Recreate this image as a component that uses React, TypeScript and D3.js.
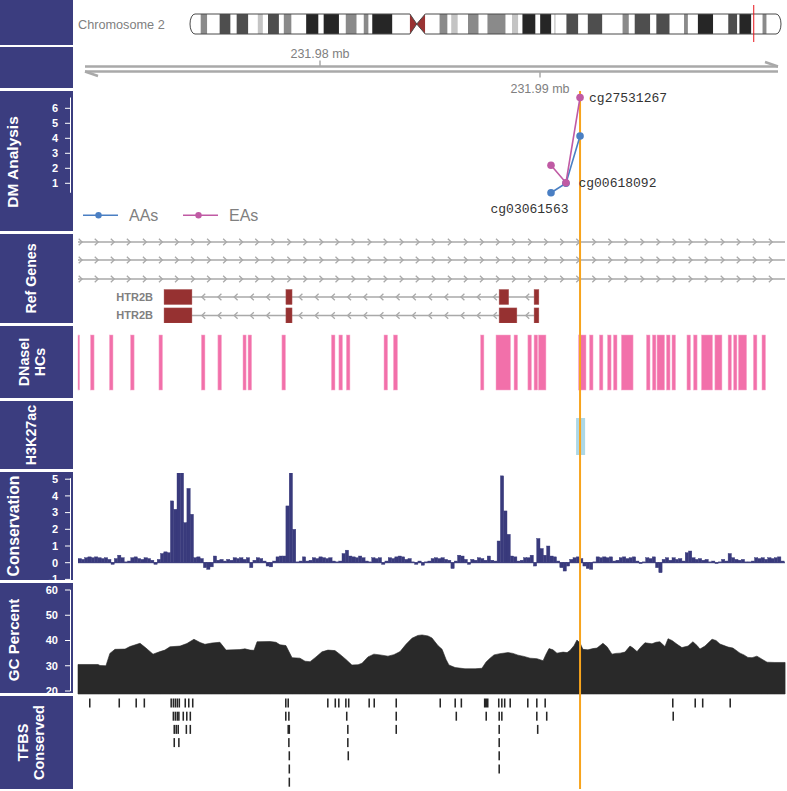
import React from 'react';
import * as d3 from 'd3';

// ---------------- data ----------------
const START_KB = 231969.0;
const END_KB = 232001.136;
const axisTickMb = [231.98, 231.99];

const chrName = 'Chromosome 2';
const chrLengthMb = 243.2;
const bandEndMb = [4.4, 7.1, 12.2, 16.7, 19.2, 24.0, 27.9, 30.0, 32.1, 36.6, 38.6, 41.8, 47.8, 52.9, 55.0, 61.3, 64.1, 68.6, 71.5, 73.5, 75.0, 83.3, 90.5, 93.3, 96.8, 102.7, 106.0, 107.5, 110.2, 114.4, 118.8, 122.4, 129.9, 132.5, 135.1, 136.8, 142.2, 144.1, 148.7, 149.9, 150.5, 154.9, 159.8, 163.7, 169.7, 178.0, 180.6, 183.0, 189.4, 191.9, 197.4, 203.3, 204.9, 209.0, 215.3, 221.5, 225.2, 226.1, 231.0, 235.6, 237.3, 243.2];
const bandStain = ['gneg', 'gpos50', 'gneg', 'gpos75', 'gneg', 'gpos75', 'gneg', 'gpos25', 'gneg', 'gpos75', 'gneg', 'gpos50', 'gneg', 'gpos100', 'gneg', 'gpos100', 'gneg', 'gpos50', 'gneg', 'gpos50', 'gneg', 'gpos100', 'gneg', 'acen', 'acen', 'gneg', 'gpos50', 'gneg', 'gpos25', 'gneg', 'gpos50', 'gneg', 'gpos50', 'gneg', 'gpos25', 'gneg', 'gpos100', 'gneg', 'gpos100', 'gneg', 'gpos25', 'gneg', 'gpos75', 'gneg', 'gpos75', 'gneg', 'gpos50', 'gneg', 'gpos75', 'gneg', 'gpos75', 'gneg', 'gpos50', 'gneg', 'gpos100', 'gneg', 'gpos75', 'gneg', 'gpos100', 'gneg', 'gpos50', 'gneg'];
const regionMarkMb = 231.985;

const probeIds = ['cg03061563', 'cg00618092', 'cg27531267'];
const probeKb = [21.5, 22.18, 22.82];
const aaScore = [0.37, 1.0, 4.15];
const eaScore = [2.2, 1.04, 6.72];
const dmTicks = [1, 2, 3, 4, 5, 6];
const groupNames = ['AAs', 'EAs'];

const geneLabels = ['', '', '', 'HTR2B', 'HTR2B'];
const geneStrands = ['+', '+', '+', '-', '-'];
const geneStartKb = [-2, -2, -2, 3.91, 3.91];
const geneEndKb = [34, 34, 34, 20.95, 20.95];
const geneExonsKb = [
  [], [], [],
  [[3.91, 5.18], [9.45, 9.73], [19.14, 19.58], [20.73, 20.95]],
  [[3.91, 5.18], [9.45, 9.73], [19.14, 19.95], [20.73, 20.95]],
];

const dnaseStartKb = [0, 0.57, 1.43, 2.39, 3.68, 5.61, 6.36, 7.5, 7.73, 9.27, 11.52, 11.86, 12.2, 13.91, 14.34, 18.3, 19.0, 19.82, 20.45, 20.73, 20.93, 22.75, 23.25, 23.7, 24.07, 24.34, 24.7, 25.84, 26.11, 26.32, 26.75, 27.0, 27.68, 27.98, 28.34, 28.95, 29.55, 29.8, 30.02, 30.7, 31.09];
const dnaseEndKb = [0.07, 0.73, 1.59, 2.55, 3.84, 5.77, 6.52, 7.64, 7.89, 9.43, 11.68, 12.02, 12.36, 14.07, 14.52, 18.45, 19.66, 19.98, 20.61, 20.89, 21.27, 23.09, 23.41, 23.86, 24.23, 24.5, 25.23, 26.0, 26.27, 26.66, 26.91, 27.16, 27.84, 28.14, 28.84, 29.27, 29.7, 29.95, 30.39, 30.86, 31.25];

const h3k27acStartKb = [22.64];
const h3k27acEndKb = [23.05];

const consBinKb = 0.15;
const consScore = [
  0.25, 0.2, 0.3, 0.35, 0.3, 0.35, 0.3, 0.25, 0.3, 0.2,
  -0.1, 0.25, 0.45, 0.3, 0.05, 0.1, 0.3, 0.35, 0.25, 0.2,
  0.3, 0.25, 0.15, -0.1, 0.2, 0.55, 0.65, 0.6, 3.7, 3.2,
  5.4, 5.4, 2.4, 4.45, 2.9, 0.3, 0.35, 0.25, -0.3, -0.4,
  -0.25, 0.4, 0.15, 0.2, 0.1, 0.2, 0.15, 0.3, 0.25, 0.3,
  0.2, 0.3, -0.3, 0.15, 0.3, 0.25, 0.1, -0.2, -0.25, 0.1,
  0.35, 0.4, 0.4, 3.4, 5.4, 2.0, 0.05, 0.1, 0.35, 0.1,
  0.15, 0.3, 0.25, 0.35, 0.3, 0.25, 0.3, 0.1, 0.05, 0.1,
  0.55, 0.75, 0.4, 0.35, 0.3, 0.4, 0.3, 0.1, 0.05, 0.3,
  0.25, 0.3, -0.1, 0.1, 0.3, 0.25, 0.35, 0.4, 0.35, 0.2,
  0.25, 0.05, -0.1, 0.1, -0.15, 0.05, 0.1, 0.25, 0.3, 0.25,
  0.3, 0.2, 0.15, -0.35, 0.1, 0.45, 0.4, 0.2, -0.1, 0.2,
  0.15, 0.3, 0.25, 0.15, 0.4, 0.15, 0.1, 1.3, 5.2, 3.1,
  1.7, 0.4, 0.35, 0.1, 0.15, 0.3, 0.3, 0.45, -0.2, 1.45,
  0.85, 0.45, 1.0, 0.4, 0.35, 0.1, -0.3, -0.5, -0.2, 0.2,
  0.3, 0.35, 0.25, -0.2, -0.35, -0.4, 0.05, 0.35, 0.3, 0.35,
  0.3, 0.35, 0.1, 0.15, 0.3, 0.35, 0.25, 0.3, 0.35, 0.1,
  -0.05, 0.05, 0.3, 0.25, 0.35, -0.3, -0.6, 0.2, 0.3, 0.15,
  0.3, 0.2, 0.25, 0.1, 0.6, 0.7, 0.3, 0.2, 0.25, 0.15,
  0.2, 0.05, 0.1, -0.05, 0.05, 0.2, 0.1, 0.55, 0.3, 0.2,
  0.15, 0.2, 0.05, 0.05, 0.1, 0.3, 0.25, 0.3, 0.2, 0.3,
  0.25, 0.3, 0.35, 0.1,
];
const consTicks = [-1, 0, 1, 2, 3, 4, 5];

const gcKb = [0, 0.91, 1.0, 1.27, 1.45, 1.68, 2.14, 2.36, 2.82, 3.09, 3.41, 3.73, 3.95, 4.18, 4.64, 4.95, 5.27, 5.55, 5.77, 6.09, 6.45, 6.73, 7.36, 7.59, 7.82, 8.0, 8.14, 8.73, 9.0, 9.18, 9.45, 9.73, 10.09, 10.32, 10.55, 10.82, 11.09, 11.36, 11.68, 11.91, 12.18, 12.45, 12.73, 12.91, 13.18, 13.45, 13.73, 14.09, 14.36, 14.64, 14.91, 15.18, 15.45, 15.64, 15.91, 16.09, 16.36, 16.55, 16.73, 16.86, 17.14, 17.59, 18.05, 18.36, 18.55, 18.73, 18.91, 19.18, 19.55, 19.77, 20.0, 20.27, 20.55, 20.86, 21.14, 21.27, 21.41, 21.59, 21.77, 22.05, 22.23, 22.36, 22.55, 22.68, 22.82, 22.95, 23.18, 23.41, 23.59, 23.86, 24.05, 24.27, 24.45, 24.64, 24.86, 25.09, 25.23, 25.41, 25.59, 25.77, 26.09, 26.27, 26.45, 26.68, 26.82, 27.0, 27.23, 27.45, 27.73, 27.95, 28.14, 28.27, 28.5, 28.82, 29.0, 29.18, 29.55, 29.77, 30.09, 30.27, 30.45, 30.64, 30.86, 31.09, 31.32, 31.68, 32.14];
const gcPct = [30.5, 30.5, 30.1, 30.0, 34.9, 36.5, 36.6, 37.6, 38.9, 37.0, 34.6, 35.6, 36.2, 37.5, 37.8, 38.8, 40.5, 39.2, 38.5, 39.0, 39.3, 36.2, 36.4, 36.7, 36.2, 36.1, 39.5, 39.6, 39.3, 38.3, 38.0, 33.2, 33.0, 31.8, 31.6, 33.5, 35.5, 36.2, 36.0, 34.5, 32.5, 30.3, 30.4, 31.0, 33.5, 34.6, 34.3, 33.8, 34.4, 35.6, 38.5, 40.9, 42.0, 42.2, 41.8, 41.0, 38.0, 36.5, 32.5, 30.3, 29.3, 28.8, 28.8, 29.0, 31.5, 33.0, 34.3, 34.8, 35.2, 34.9, 34.2, 33.7, 33.0, 32.8, 32.0, 34.5, 36.8, 36.3, 35.0, 35.4, 35.2, 36.0, 38.0, 40.2, 39.0, 36.5, 36.3, 36.8, 37.0, 38.9, 37.5, 34.6, 34.9, 35.0, 35.4, 37.8, 37.0, 35.6, 37.5, 39.1, 38.7, 39.3, 39.5, 37.6, 40.7, 40.0, 38.5, 37.2, 37.8, 39.5, 38.0, 36.6, 37.8, 40.5, 40.0, 38.6, 37.4, 37.0, 35.0, 34.3, 33.3, 33.2, 33.8, 32.6, 31.4, 31.3, 31.3];
const gcTicks = [20, 30, 40, 50, 60];

// TFBS: per stacking row, [start kb offset, length bp]
const tfbsRows: number[][][] = [
  [[0.5, 70], [1.84, 70], [2.61, 70], [2.98, 70], [4.2, 70], [4.3, 70], [4.39, 70], [4.48, 70], [4.57, 70], [4.84, 70], [5.0, 70], [5.18, 70], [9.41, 70], [9.52, 70], [11.32, 70], [11.66, 70], [11.82, 70], [12.14, 70], [12.27, 70], [13.2, 70], [13.43, 70], [14.43, 70], [16.43, 70], [17.11, 70], [17.39, 70], [18.45, 210], [19.09, 70], [19.23, 70], [19.36, 70], [19.61, 70], [20.41, 70], [20.82, 70], [21.2, 70], [27.0, 70], [28.02, 70], [28.36, 70], [29.61, 70]],
  [[4.3, 70], [4.39, 70], [4.48, 70], [4.55, 70], [4.75, 70], [4.91, 70], [5.07, 70], [9.41, 70], [9.55, 70], [12.18, 70], [14.43, 70], [17.16, 70], [18.52, 70], [19.11, 70], [19.23, 70], [20.82, 70], [21.27, 70], [27.02, 70]],
  [[4.34, 70], [4.43, 70], [4.52, 70], [4.89, 70], [5.07, 70], [9.52, 120], [12.23, 70], [14.43, 70], [19.11, 70], [20.86, 70]],
  [[4.34, 70], [4.55, 70], [9.55, 70], [12.23, 70], [19.11, 70]],
  [[9.57, 70], [12.25, 70], [19.11, 70]],
  [[9.57, 70], [19.11, 70]],
  [[9.57, 70]],
];

// ---------------- drawing ----------------
const SANS = "'Liberation Sans', Arial, Helvetica, sans-serif";
const MONO = "'Liberation Mono', 'Courier New', monospace";
const PANEL = '#3b3d7f';
const stainColor: Record<string, string> = {
  gneg: '#ffffff', gpos25: '#c4c4c4', gpos50: '#8a8a8a', gpos75: '#4e4e4e', gpos100: '#262626', acen: '#993333',
};

export default function App() {
  const W = 787, H = 791;
  const x = d3.scaleLinear().domain([START_KB, END_KB]).range([78, 785]);
  const xo = (o: number) => x(START_KB + o);
  const XL = 78, XR = 785;

  // panels
  const panels = [
    { y0: 0, y1: 45, title: [] as string[], bx: [] as number[], cy: 0, fs: 14.5 },
    { y0: 47, y1: 88, title: [], bx: [], cy: 0, fs: 14.5 },
    { y0: 91, y1: 231, title: ['DM Analysis'], bx: [18], cy: 162, fs: 15.5 },
    { y0: 234, y1: 323, title: ['Ref Genes'], bx: [36], cy: 278.5, fs: 14.2 },
    { y0: 326, y1: 398, title: ['DNaseI', 'HCs'], bx: [28.5, 44.5], cy: 362, fs: 14.3 },
    { y0: 401, y1: 469, title: ['H3K27ac'], bx: [36], cy: 435, fs: 14.3 },
    { y0: 472, y1: 580, title: ['Conservation'], bx: [19], cy: 526, fs: 15.8 },
    { y0: 583, y1: 693, title: ['GC Percent'], bx: [19], cy: 640, fs: 15.2 },
    { y0: 696, y1: 789, title: ['TFBS', 'Conserved'], bx: [28, 44], cy: 742.5, fs: 14.5 },
  ];

  // ideogram
  const ix = d3.scaleLinear().domain([0, chrLengthMb]).range([190, 781]);
  const iTop = 14, iBot = 34, iMid = 24, er = 5;
  const bandStartMb = [0, ...bandEndMb.slice(0, -1)];
  const acen = bandStain.map((s, i) => (s === 'acen' ? i : -1)).filter(i => i >= 0);
  const cenS = ix(bandStartMb[acen[0]]);
  const cenM = ix(bandEndMb[acen[0]]);
  const cenE = ix(bandEndMb[acen[acen.length - 1]]);
  const ix0 = ix(0), ix1 = ix(chrLengthMb);
  const ry = (iBot - iTop) / 2;
  const ideoPath = `M${cenM},${iMid}L${cenS},${iTop}L${ix0 + er},${iTop}A${er},${ry} 0 0 0 ${ix0 + er},${iBot}L${cenS},${iBot}L${cenM},${iMid}L${cenE},${iBot}L${ix1 - er},${iBot}A${er},${ry} 0 0 0 ${ix1 - er},${iTop}L${cenE},${iTop}Z`;

  // axis track
  const ax1 = 66.5, ax2 = 71.5;

  // DM analysis
  const yDM = d3.scaleLinear().domain([0, 6]).range([198.3, 108.3]);
  const dmLine = d3.line<number>().x((_, i) => xo(probeKb[i])).y(v => yDM(v));
  const AA = '#4a7fc3', EA = '#c05aa4';
  const allDM = [...aaScore, ...eaScore];
  const dmMin = d3.min(allDM) as number, dmMax = d3.max(allDM) as number;

  // conservation
  const yC = d3.scaleLinear().domain([-1, 5]).range([579.4, 479.2]);
  const CONS = '#393a7c';

  // GC
  const yG = d3.scaleLinear().domain([20, 60]).range([691, 590]);
  const gcArea = d3.area<number>().x((_, i) => xo(gcKb[i])).y0(694).y1(v => yG(v));

  // genes
  const geneRowY = [242, 260, 279, 297, 315.5];
  const chevron = (cx: number, cy: number, dir: string, key: string) => {
    const d = dir === '+'
      ? `M${cx - 1.8},${cy - 3.2}L${cx + 1.6},${cy}L${cx - 1.8},${cy + 3.2}`
      : `M${cx + 1.8},${cy - 3.2}L${cx - 1.6},${cy}L${cx + 1.8},${cy + 3.2}`;
    return <path key={key} d={d} fill="none" stroke="#a9a9a9" strokeWidth={1.3} />;
  };

  const orangeX = xo(probeKb[2]);

  const axisLabels = (ticks: number[], y: (v: number) => number, key: string) => (
    <g key={key}>
      {ticks.map(t => (
        <g key={t}>
          <line x1={65} x2={70.5} y1={y(t)} y2={y(t)} stroke="#fff" strokeWidth={1} />
          <text x={58} y={y(t)} dy="0.35em" textAnchor="end" fill="#fff" fontSize={11} fontWeight="bold" fontFamily={SANS}>{t}</text>
        </g>
      ))}
    </g>
  );

  return (
    <div style={{ position: 'absolute', left: 0, top: 0, width: W, height: H, background: '#fff' }}>
      <svg width={W} height={H} style={{ display: 'block' }} fontFamily={SANS}>
        <defs>
          <clipPath id="ideoClip"><path d={ideoPath} /></clipPath>
          <clipPath id="consClip"><rect x={XL} y={473} width={XR - XL} height={107} /></clipPath>
          <clipPath id="geneClip"><rect x={XL} y={234} width={XR - XL} height={89} /></clipPath>
        </defs>

        {/* title panels */}
        {panels.map((p, i) => (
          <g key={i}>
            <rect x={0} y={p.y0} width={73} height={p.y1 - p.y0} fill={PANEL} />
            {p.title.map((t, j) => (
              <text key={j} transform={`translate(${p.bx[j]},${p.cy}) rotate(-90)`} textAnchor="middle"
                fill="#fff" fontSize={p.fs} fontWeight="bold">{t}</text>
            ))}
          </g>
        ))}

        {/* ideogram */}
        <text x={78} y={29.3} fill="#808080" fontSize={12.7}>{chrName}</text>
        <g clipPath="url(#ideoClip)">
          {bandEndMb.map((e, i) => (
            <rect key={i} x={ix(bandStartMb[i])} y={iTop} width={Math.max(0, ix(e) - ix(bandStartMb[i]))} height={iBot - iTop}
              fill={stainColor[bandStain[i]]} />
          ))}
        </g>
        <path d={ideoPath} fill="none" stroke="#4a4a4a" strokeWidth={1} />
        <line x1={ix(regionMarkMb)} x2={ix(regionMarkMb)} y1={5} y2={42} stroke="#e8141b" strokeWidth={1} />

        {/* genome axis */}
        <g stroke="#a9a9a9" strokeWidth={2.4} fill="none">
          <line x1={85} x2={778} y1={ax1} y2={ax1} />
          <line x1={778} x2={765} y1={ax1} y2={ax1 - 4.5} />
          <line x1={85} x2={778} y1={ax2} y2={ax2} />
          <line x1={85} x2={98} y1={ax2} y2={ax2 + 4.5} />
        </g>
        {axisTickMb.map((m, i) => {
          const tx = x(m * 1000);
          const up = i % 2 === 0;
          return (
            <g key={m}>
              <line x1={tx} x2={tx} y1={up ? ax1 - 6 : ax2} y2={up ? ax1 : ax2 + 6} stroke="#a9a9a9" strokeWidth={1.5} />
              <text x={tx} y={up ? 57.5 : 92.5} textAnchor="middle" fill="#808080" fontSize={12.5}>{`${m.toFixed(2)} mb`}</text>
            </g>
          );
        })}

        {/* DM analysis axis */}
        <line x1={70.5} x2={70.5} y1={yDM(dmMax)} y2={yDM(dmMin)} stroke="#fff" strokeWidth={1} />
        {axisLabels(dmTicks, yDM, 'dmax')}

        {/* Ref genes */}
        <g clipPath="url(#geneClip)">
          {geneLabels.map((lab, gi) => {
            const cy = geneRowY[gi];
            const gx0 = Math.max(XL, xo(geneStartKb[gi]));
            const gx1 = Math.min(XR, xo(geneEndKb[gi]));
            const exons = geneExonsKb[gi].map(([a, b]) => [xo(a), xo(b)]);
            const step = exons.length ? 16.2 : 16.05;
            const phase = exons.length ? 7 : 2.5;
            const chev: number[] = [];
            for (let c = gx0 + phase; c < gx1 - 2; c += step) {
              const bad = exons.some(([a, b]) => c > a - 4 && c < b + 4);
              if (!bad) chev.push(c);
            }
            return (
              <g key={gi}>
                <line x1={gx0} x2={gx1} y1={cy} y2={cy} stroke="#a9a9a9" strokeWidth={1.6} />
                {chev.map((c, k) => chevron(c, cy, geneStrands[gi], `${gi}-${k}`))}
                {exons.map(([a, b], k) => (
                  <rect key={k} x={a} y={cy - 7.6} width={b - a} height={15.2} fill="#963131" stroke="#b46a6a" strokeWidth={0.4} />
                ))}
                {lab && exons.length > 0 && (
                  <text x={exons[0][0] - 11} y={cy} dy="0.35em" textAnchor="end" fill="#808080" fontSize={11} fontWeight="bold">{lab}</text>
                )}
              </g>
            );
          })}
        </g>

        {/* DNaseI HCs */}
        {dnaseStartKb.map((s, i) => (
          <rect key={i} x={Math.max(XL, xo(s))} y={335} width={xo(dnaseEndKb[i]) - Math.max(XL, xo(s))} height={55}
            fill="#f270aa" stroke="#f7a9cc" strokeWidth={0.5} />
        ))}

        {/* H3K27ac */}
        {h3k27acStartKb.map((s, i) => (
          <rect key={i} x={xo(s)} y={418} width={xo(h3k27acEndKb[i]) - xo(s)} height={37} fill="#add8e6" />
        ))}

        {/* Conservation */}
        <line x1={70.5} x2={70.5} y1={yC(5) - 1} y2={580} stroke="#fff" strokeWidth={1} />
        {axisLabels(consTicks, yC, 'consax')}
        <g clipPath="url(#consClip)">
          <line x1={XL} x2={XR} y1={yC(0)} y2={yC(0)} stroke={CONS} strokeWidth={1} />
          {consScore.map((v, i) => {
            const a = xo(i * consBinKb), b = xo((i + 1) * consBinKb);
            const y0 = yC(0), y1 = yC(v);
            return <rect key={i} x={a} y={Math.min(y0, y1)} width={b - a} height={Math.max(0.5, Math.abs(y1 - y0))}
              fill={CONS} stroke={CONS} strokeWidth={0.4} />;
          })}
        </g>

        {/* GC percent */}
        <line x1={70.5} x2={70.5} y1={yG(60)} y2={yG(20)} stroke="#fff" strokeWidth={1} />
        {axisLabels(gcTicks, yG, 'gcax')}
        <path d={gcArea(gcPct) || ''} fill="#292929" stroke="#292929" strokeWidth={0.6} />

        {/* TFBS conserved */}
        {tfbsRows.map((row, r) => (
          <g key={r}>
            {row.map(([s, len], k) => (
              <rect key={k} x={xo(s)} y={698.5 + r * 13.2} width={xo(s + len / 1000) - xo(s)} height={9} fill="#262626" />
            ))}
          </g>
        ))}

        {/* highlight line */}
        <line x1={orangeX} x2={orangeX} y1={91} y2={789} stroke="#f7a41d" strokeWidth={2} />

        {/* DM lines and points */}
        <path d={dmLine(aaScore) || ''} fill="none" stroke={AA} strokeWidth={1.6} />
        {aaScore.map((v, i) => <circle key={i} cx={xo(probeKb[i])} cy={yDM(v)} r={3.8} fill={AA} />)}
        <path d={dmLine(eaScore) || ''} fill="none" stroke={EA} strokeWidth={1.6} />
        {eaScore.map((v, i) => <circle key={i} cx={xo(probeKb[i])} cy={yDM(v)} r={3.8} fill={EA} />)}
        {probeIds.map((id, i) => {
          const px = xo(probeKb[i]);
          if (i === 0) {
            return <text key={id} x={px - 21.5} y={yDM(Math.min(aaScore[i], eaScore[i])) + 16} dy="0.35em" textAnchor="middle"
              fontFamily={MONO} fontSize={13} fill="#333">{id}</text>;
          }
          return <text key={id} x={px + (i === 1 ? 12.5 : 9)} y={yDM(Math.max(aaScore[i], eaScore[i]))} dy="0.35em"
            fontFamily={MONO} fontSize={13} fill="#333">{id}</text>;
        })}

        {/* legend */}
        {groupNames.map((g, i) => {
          const lx = 83 + i * 100;
          const col = i === 0 ? AA : EA;
          return (
            <g key={g}>
              <line x1={lx} x2={lx + 35} y1={215.3} y2={215.3} stroke={col} strokeWidth={1.6} />
              <circle cx={lx + 15.5} cy={215.3} r={3.2} fill={col} />
              <text x={lx + 46} y={215.3} dy="0.35em" fill="#808080" fontSize={16}>{g}</text>
            </g>
          );
        })}
      </svg>
    </div>
  );
}
